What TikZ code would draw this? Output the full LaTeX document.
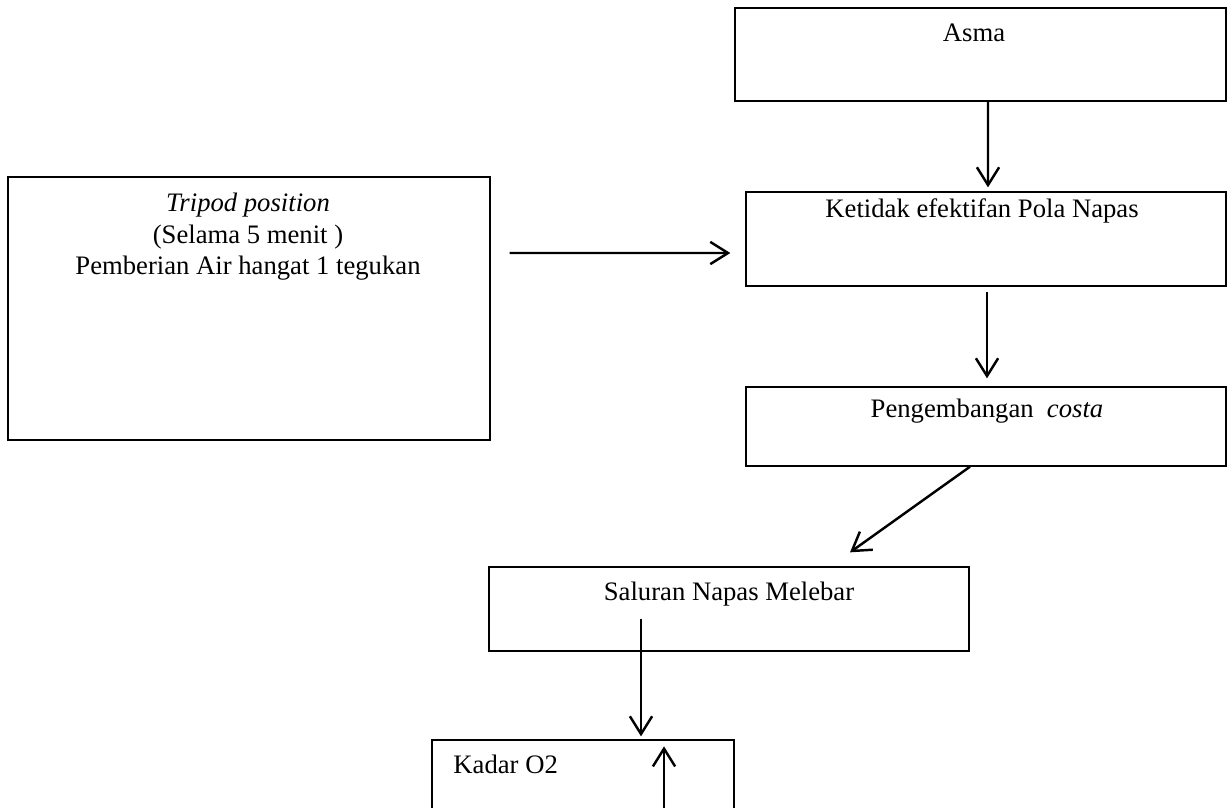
\documentclass[tikz,border=0pt]{standalone}
\usepackage{fontspec}
\setmainfont{Liberation Serif}
\usetikzlibrary{arrows.meta,fit,calc}
\begin{document}
\begin{tikzpicture}[x=0.45pt,y=-0.45pt,
  box/.style={draw, line width=0.6pt, inner sep=0pt, rectangle},
  txt/.style={inner sep=0pt, font=\fontsize{12}{14}\selectfont},
  arr/.style={line width=1.1pt, -{Straight Barb[length=8pt,width=10pt,line width=1.1pt]}}]
\clip (0,0) rectangle (1227,807);
\fill[white] (0,0) rectangle (1227,807);
% boxes
\node[box, fit={(735,8) (1226,101)}] (asma) {};
\node[box, fit={(746,192) (1226,286)}] (ket) {};
\node[box, fit={(8,177) (490,440)}] (tri) {};
\node[box, fit={(746,387) (1226,466)}] (peng) {};
\node[box, fit={(489,567) (969,651)}] (sal) {};
\node[box, fit={(432,740) (734,840)}] (kad) {};
% texts
\node[txt, anchor=base] (tasma) at (974,42) {Asma};
\node[txt, anchor=base] (tket) at (982,217) {Ketidak efektifan Pola Napas};
\node[txt, anchor=north, align=center] (ttri) at (248,193) {\textit{Tripod position}\\(Selama 5 menit )\\Pemberian Air hangat 1 tegukan};
\node[txt, anchor=base] (tpeng) at (987,417) {Pengembangan\ \ \textit{costa}};
\node[txt, anchor=base] (tsal) at (729,600) {Saluran Napas Melebar};
\node[txt, anchor=base west] (tkad) at (453,773) {Kadar O2};
% connectors
\draw[arr] ($(asma.south)+(7.5,0)$) -- ($(ket.north)+(2,-4)$);
\draw[arr] ($(ket.south)+(1,5)$) -- ($(peng.north)+(1,-8)$);
\draw[arr] ($(tri.east)+(19,-55.5)$) -- ($(ket.west)+(-15,14)$);
\draw[arr] ($(peng.south)+(-16,0)$) -- ($(sal.north)+(121,-14)$);
\draw[arr] ($(sal.south)+(-88,-33)$) -- ($(kad.north)+(58,-3)$);
\coordinate (up0) at (664,815);
\draw[arr] (up0) -- ($(kad.north)+(81,7)$);
\end{tikzpicture}
\end{document}
